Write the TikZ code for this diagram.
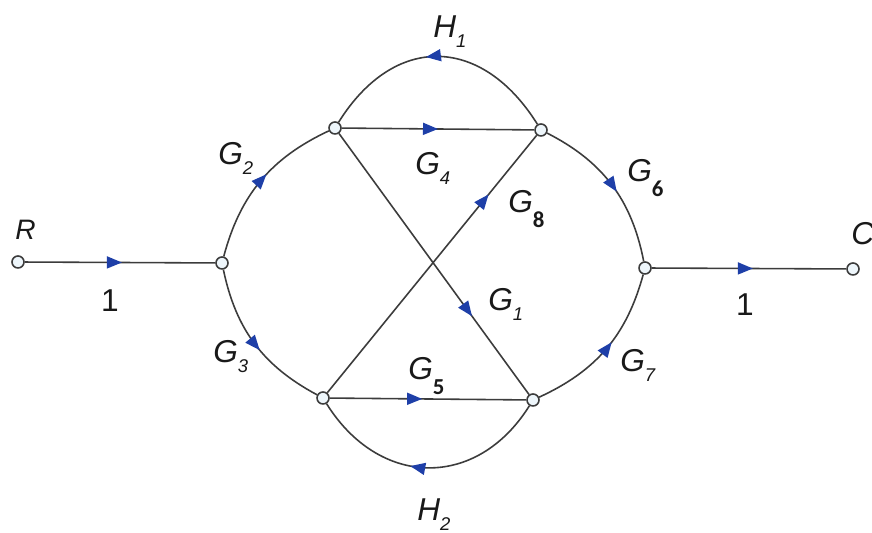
\documentclass[tikz,border=0pt]{standalone}
\usepackage{fontspec}
\setmainfont{Liberation Sans}
\newfontfamily\subbold{Carlito}
\usetikzlibrary{arrows.meta,decorations.markings}
\definecolor{ln}{HTML}{3C3C3C}
\definecolor{ar}{HTML}{1E3FA8}
\definecolor{nf}{HTML}{EEF6FB}
\newcommand\gl[2]{\textit{#1}\raisebox{-0.3em}{\fontsize{10.5}{10.5}\selectfont\textit{#2}}}
\newcommand\gb[2]{\textit{#1}\raisebox{-0.45em}{\fontsize{13}{13}\selectfont\subbold\bfseries #2}}
\begin{document}
\begin{tikzpicture}[x=0.02cm,y=0.02cm,
  junc/.style={circle,draw=ln,fill=nf,line width=0.9pt,minimum size=0.24cm,inner sep=0},
  br/.style={draw=ln,line width=0.9pt},
  flow/.style={postaction={decorate,decoration={markings,mark=at position #1 with {\arrow[color=ar]{Triangle[length=0.3cm,width=0.24cm]}}}}},
  lbl/.style={inner sep=0,anchor=base west,text=black!90,font=\fontsize{18}{20}\selectfont}]
\useasboundingbox (0,0) rectangle (872,533);
\clip (0,0) rectangle (872,533);
\fill[white] (0,0) rectangle (872,533);
% junctions
\node[junc] (Rn) at (18,271) {};
\node[junc] (A) at (222,270) {};
\node[junc] (B) at (335,405) {};
\node[junc] (C) at (541,403) {};
\node[junc] (D) at (323,135) {};
\node[junc] (E) at (533,133) {};
\node[junc] (F) at (645,265) {};
\node[junc] (O) at (853,264) {};
% branches
\draw[br,flow=0.51] (Rn) -- (A);
\draw[br,flow=0.55] (A) to[bend left=25] (B);
\draw[br,flow=0.55] (A) to[bend right=25] (D);
\draw[br,flow=0.5] (B) -- (C);
\draw[br,flow=0.55] (C) to[out=122,in=58,looseness=1.35] (B);
\draw[br,flow=0.70] (B) -- (E);
\draw[br,flow=0.77] (D) -- (C);
\draw[br,flow=0.47] (D) -- (E);
\draw[br,flow=0.57] (E) to[out=-122,in=-58,looseness=1.25] (D);
\draw[br,flow=0.55] (C) to[bend left=26] (F);
\draw[br,flow=0.55] (E) to[bend right=25] (F);
\draw[br,flow=0.52] (F) -- (O);
% labels
\node[lbl,font=\fontsize{16}{18}\selectfont] (lR) at (15,293) {\textit{R}};
\node[lbl,anchor=center] (l1a) at (110,232) {1};
\node[lbl] (lG2) at (218,368) {\gl{G}{2}};
\node[lbl] (lG3) at (213,170) {\gl{G}{3}};
\node[lbl] (lG4) at (415,358) {\gl{G}{4}};
\node[lbl] (lH1) at (433,495) {\gl{H}{1}};
\node[lbl] (lG8) at (508,320) {\gb{G}{8}};
\node[lbl] (lG6) at (627,351) {\gb{G}{6}};
\node[lbl] (lG1) at (488,222) {\gl{G}{1}};
\node[lbl] (lG5) at (408,153) {\gb{G}{5}};
\node[lbl] (lG7) at (620,161) {\gl{G}{7}};
\node[lbl] (lH2) at (417,12) {\gl{H}{2}};
\node[lbl,anchor=center] (l1b) at (745,228) {1};
\node[lbl] (lC) at (851,288) {\textit{C}};
\end{tikzpicture}
\end{document}
